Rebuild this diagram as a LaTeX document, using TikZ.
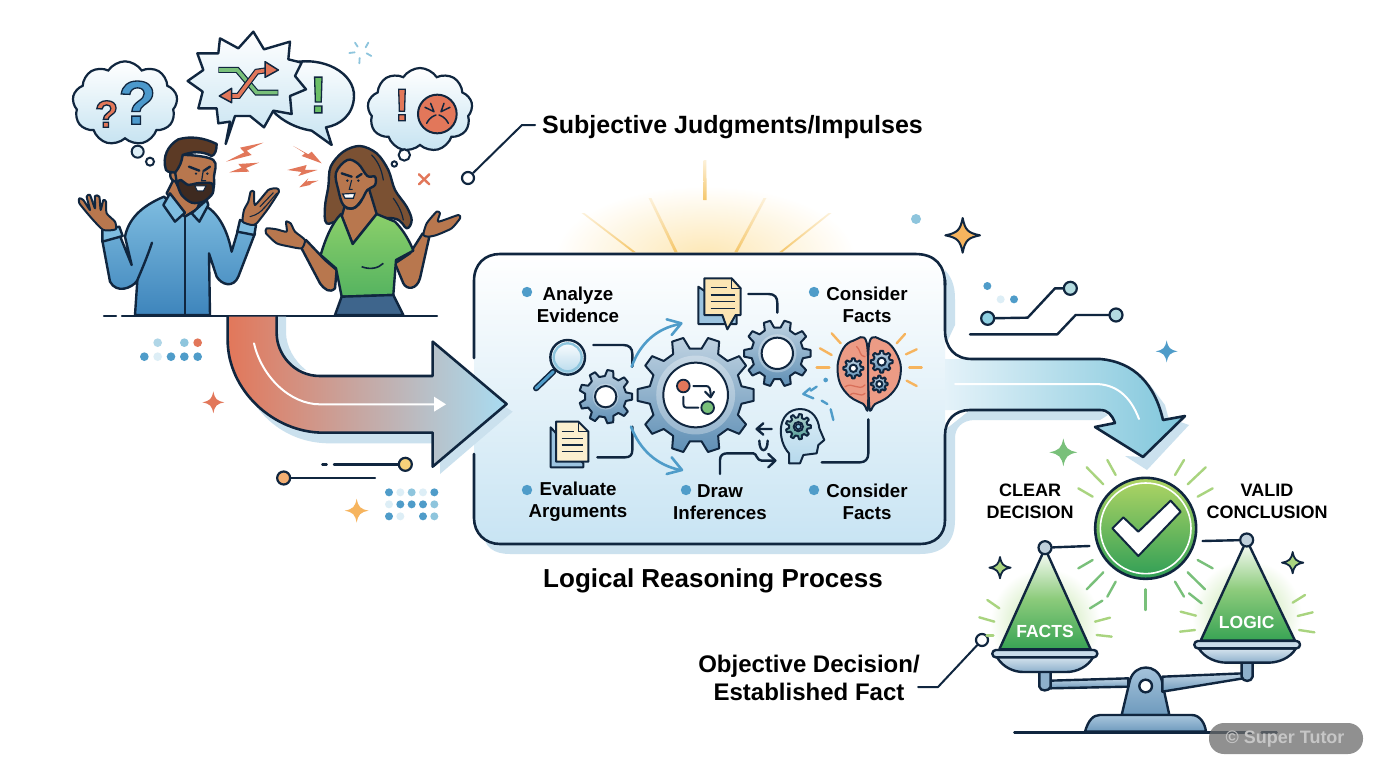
\documentclass[tikz,border=0pt]{standalone}
\usepackage{fontspec}
\setmainfont{Liberation Sans}
\usetikzlibrary{shapes.symbols,calc}
\definecolor{ink}{HTML}{10263F}
\definecolor{dotb}{HTML}{4F9CC9}
\definecolor{dotm}{HTML}{8EC5DD}
\definecolor{dotp}{HTML}{DDEEF6}
\definecolor{coral}{HTML}{E2775A}
\definecolor{amber}{HTML}{F6B45E}
\definecolor{skin}{HTML}{B8774E}
\definecolor{ray}{HTML}{A9D47F}
\definecolor{rayg}{HTML}{79C07A}
\definecolor{shadowb}{HTML}{CBE1EE}
\definecolor{sunray}{HTML}{F5C76B}
\newcommand\hexc[1]{\definecolor{#1}{HTML}{#1}}
\hexc{FDE7B4}\hexc{C6E3F1}\hexc{7FBDE0}\hexc{3E85BC}\hexc{3E2A20}\hexc{5C3A25}\hexc{7B5133}\hexc{8BCF6A}\hexc{55B360}\hexc{3E658C}\hexc{D9AB9B}\hexc{A8DCF2}\hexc{F6D27A}\hexc{F2AE72}\hexc{C8E4F3}\hexc{E4F2F9}\hexc{7FC6DB}\hexc{8FD0E2}\hexc{B4DCE0}\hexc{9CC4E0}\hexc{FBEFCF}\hexc{FBE5B4}\hexc{EC9B85}\hexc{DCEDF6}\hexc{B6D9EC}\hexc{4E9A94}\hexc{5F8FB5}\hexc{B9E09A}\hexc{A9C6DD}\hexc{6E9ABD}\hexc{C0D4E4}\hexc{8DB0CC}\hexc{D6E4EE}\hexc{C9DCEA}\hexc{38A354}\hexc{BFD0DC}\hexc{B0D564}\hexc{2F9E56}\hexc{D9705A}\hexc{8CCB7B}
\tikzset{
  ln/.style={draw=ink,line width=2.4pt,line cap=round,line join=round},
  thin ln/.style={draw=ink,line width=1.5pt,line cap=round,line join=round},
  cloudy/.style={cloud,cloud puffs=9,cloud puff arc=115,aspect=1.25,draw=ink,line width=2.2pt,top color=white,bottom color=#1},
  cloudy/.default={C6E3F1},
  skinshape/.style={ln,fill=skin},
  gearfill/.style={draw=ink,line width=2pt,line join=round,top color=#1!40!white,bottom color=#1},
  gearfill/.default={5F8FB5},
  lab/.style={font=\bfseries\fontsize{18.7}{22}\selectfont,text=black,align=center,inner sep=0pt},
  capl/.style={font=\bfseries\fontsize{18}{22}\selectfont,text=black,align=center,inner sep=0pt},
  bigl/.style={font=\bfseries\fontsize{26}{29}\selectfont,text=black,align=center,inner sep=0pt},
  rayl/.style={line width=2.4pt,line cap=round,draw=#1},
  pin/.style={circle,draw=ink,line width=2.2pt,fill=white,inner sep=0pt,minimum size=#1},
}
% four-pointed sparkle: x y radius style
\newcommand\sparkle[4]{\begin{scope}[shift={(#1,#2)},scale=#3]
 \path[#4] (0,-1) .. controls (.14,-.3) and (.3,-.14) .. (1,0) .. controls (.3,.14) and (.14,.3) .. (0,1) .. controls (-.14,.3) and (-.3,.14) .. (-1,0) .. controls (-.3,-.14) and (-.14,-.3) .. (0,-1) -- cycle;
\end{scope}}
% gear: x y R r hole teeth colour
\newcommand\gearwheel[7]{\begin{scope}[shift={(#1,#2)}]
 \pgfmathsetmacro\gst{360/#6}
 \path[gearfill=#7] (-.3*\gst:#4) \foreach \i in {1,...,#6}{ -- ({(\i-1)*\gst-.3*\gst}:#4) -- ({(\i-1)*\gst-.16*\gst}:#3) -- ({(\i-1)*\gst+.16*\gst}:#3) -- ({(\i-1)*\gst+.3*\gst}:#4) } -- cycle;
 \fill[white,opacity=.3] (0,0) circle ({1.22*#5});
 \draw[line width=2pt,draw=ink,fill=white] (0,0) circle (#5);
\end{scope}}
\newcommand\outlined[2]{\special{pdf:code 2 Tr 1.3 w 0.063 0.149 0.247 RG #1 rg}#2\special{pdf:code 0 Tr}}
% tapered sun ray: top x,y bottom x,y
\newcommand\sunbeam[4]{\path[top color=sunray!25!white,bottom color=sunray] (#1-1.4,#2) -- (#1+1.4,#2) -- (#3+1.6,#4) -- (#3-1.6,#4) -- cycle;}
\begin{document}
\begin{tikzpicture}[x=1pt,y=-1pt]
\useasboundingbox (0,0) rectangle (1376,768);
\fill[white] (0,0) rectangle (1376,768);

% ---------- sun glow behind the box
\begin{scope}
 \clip (540,150) rectangle (880,256);
 \shade[inner color=FDE7B4,outer color=white] (705,256) ellipse (150 and 70);
\end{scope}
\sunbeam{705}{160}{705}{200}
\sunbeam{650}{198}{676}{252}
\sunbeam{765}{198}{736}{252}
\sunbeam{583}{213}{634}{252}
\sunbeam{830}{213}{781}{252}

% ---------- upper-left scene (coordinates of a 3x crop)
\begin{scope}[shift={(60,20)},x=.33333pt,y=-.33333pt]
 % question cloud
 \node[cloudy,minimum width=105pt,minimum height=84pt,inner sep=0pt] (cloudq) at (195,250) {};
 \node[inner sep=0pt] (qbig) at (232,248) {\fontsize{62}{62}\selectfont\bfseries\outlined{0.30 0.60 0.80}{?}};
 \node[inner sep=0pt] (qsmall) at (140,282) {\fontsize{38}{38}\selectfont\bfseries\outlined{0.89 0.47 0.35}{?}};
 \draw[line width=2pt,draw=ink,fill=dotp] (233,395) circle (18);
 \draw[line width=2pt,draw=ink,fill=white] (270,425) circle (12);

 % anger cloud
 \node[cloudy,minimum width=105pt,minimum height=84pt,inner sep=0pt] (clouda) at (1080,270) {};
 \node[inner sep=0pt] (ex2) at (1026,255) {\fontsize{46}{46}\selectfont\bfseries\outlined{0.89 0.47 0.35}{!}};
 \draw[line width=2pt,draw=ink,fill=coral] (1132,282) circle (58);
 \draw[thin ln] (1095,262) -- (1122,275) -- (1112,250);
 \draw[thin ln] (1170,262) -- (1143,275) -- (1152,250);
 \draw[thin ln] (1100,310) .. controls (1110,290) and (1122,288) .. (1128,285);
 \draw[thin ln] (1165,310) .. controls (1155,290) and (1143,288) .. (1137,285);
 \draw[line width=2pt,draw=ink,fill=white] (1033,405) circle (17);
 \draw[line width=2pt,draw=ink,fill=white] (1003,432) circle (8);

 % speech bubble behind the burst
 \path[ln,top color=white,bottom color=C6E3F1] (690,130) .. controls (790,105) and (885,160) .. (882,230) .. controls (880,285) and (840,315) .. (798,322) -- (815,375) -- (755,332) .. controls (710,325) and (670,305) .. (640,275) -- cycle;
 \node[inner sep=0pt] (ex1) at (775,225) {\fontsize{52}{52}\selectfont\bfseries\outlined{0.42 0.75 0.40}{!}};

 % burst bubble
 \path[ln,top color=white,bottom color=C6E3F1] (580,35) -- (612,88) -- (690,65) -- (685,118) -- (725,128) -- (705,168) -- (738,208) -- (690,228) -- (695,282) -- (640,272) -- (612,322) -- (570,288) -- (525,288) -- (497,372) -- (510,305) -- (475,310) -- (470,265) -- (415,265) -- (428,215) -- (383,183) -- (430,150) -- (412,100) -- (475,100) -- (480,55) -- (535,85) -- cycle;
 % shuffle arrows
 \draw[ink,line width=6pt,line join=miter] (475,150) -- (532,150) -- (590,218) -- (655,218);
 \draw[rayg,line width=3.6pt,line join=miter] (477,150) -- (532,150) -- (590,218) -- (653,218);
 \draw[ink,line width=6pt] (505,228) -- (535,228) -- (590,155) -- (625,150);
 \draw[coral,line width=3.6pt] (507,228) -- (535,228) -- (590,155) -- (627,150);
 \path[ln,line width=1.5pt,fill=coral] (615,125) -- (655,150) -- (615,172) -- cycle;
 \path[ln,line width=1.5pt,fill=coral] (515,205) -- (478,228) -- (515,248) -- cycle;

 % bolts
 \path[fill=coral] (610,368) -- (540,383) -- (553,397) -- (498,425) -- (575,405) -- (560,392) -- cycle;
 \path[fill=coral] (597,428) -- (535,432) -- (545,443) -- (508,457) -- (568,455) -- (558,444) -- cycle;
 \path[fill=coral] (700,378) -- (735,400) -- (725,408) -- (785,430) -- (755,395) -- (745,403) -- cycle;
 \path[fill=coral] (682,450) -- (725,456) -- (715,468) -- (772,450) -- (735,450) -- (740,435) -- cycle;
 \path[fill=coral] (775,482) -- (740,484) -- (745,475) -- (718,502) -- (750,495) -- (755,490) -- cycle;
 % little x and ticks
 \draw[coral,line width=2.4pt,line cap=round] (1077,463) -- (1108,493) (1108,463) -- (1077,493);
 \foreach \a/\b/\c/\d in {885/68/893/80, 925/68/917/82, 868/99/884/97, 920/100/934/108, 899/114/898/130}
   \draw[dotm,line width=1.8pt,line cap=round] (\a,\b) -- (\c,\d);

 % ----- man
 \draw[skinshape] (320,520) -- (345,470) -- (430,520) -- (410,570) -- (375,590) -- cycle;
 \path[ln,top color=7FBDE0,bottom color=3E85BC] (225,885) -- (232,782) .. controls (215,805) and (170,822) .. (150,785) -- (127,662) -- (180,648) -- (215,735) -- (195,650) .. controls (205,600) and (240,560) .. (312,530) -- (375,590) -- (432,555) .. controls (470,575) and (500,620) .. (515,695) -- (540,610) -- (585,640) -- (535,770) .. controls (520,805) and (485,795) .. (470,770) -- (447,700) -- (450,885) -- cycle;
 \draw[ln] (375,590) -- (375,885);
 \draw[ln] (276,668) .. controls (262,710) and (245,750) .. (230,785);
 \path[ln,fill=7FBDE0] (127,630) -- (178,620) -- (188,648) -- (127,665) -- cycle;
 \path[ln,fill=7FBDE0] (540,600) -- (588,615) -- (583,645) -- (532,635) -- cycle;
 \path[ln,fill=7FBDE0] (330,520) -- (310,555) -- (345,605) -- (375,578) -- cycle;
 \path[ln,fill=7FBDE0] (440,540) -- (395,580) -- (418,605) -- (445,555) -- cycle;
 % man hands
 \draw[skinshape,line width=2pt] plot[smooth cycle,tension=.35] coordinates {(130,630)(95,595)(58,550)(58,535)(70,540)(90,570)(80,530)(90,525)(105,565)(105,528)(118,530)(122,570)(130,540)(138,545)(140,580)(165,605)(167,628)};
 \draw[skinshape,line width=2pt] plot[smooth cycle,tension=.35] coordinates {(548,605)(552,570)(565,545)(572,515)(582,515)(585,555)(625,510)(650,505)(657,515)(625,565)(590,610)(575,615)};
 \draw[ink,line width=1.1pt,line cap=round] (570,590) .. controls (590,585) and (605,575) .. (615,560) (600,560) -- (640,518) (612,565) -- (650,520);
 % man head
 \draw[skinshape] plot[smooth cycle,tension=.6] coordinates {(345,420)(375,405)(460,420)(462,470)(458,510)(420,545)(380,530)(345,480)};
 \draw[ln,fill=3E2A20] plot[smooth cycle,tension=.5] coordinates {(362,480)(385,495)(410,490)(455,490)(458,520)(430,545)(395,548)(365,525)(352,490)};
 \path[fill=white,draw=ink,line width=1pt] (405,498) -- (438,498) -- (430,513) -- (412,513) -- cycle;
 \draw[skinshape] (345,455) .. controls (325,445) and (325,485) .. (350,485) -- cycle;
 \path[ln,fill=5C3A25] (318,450) .. controls (305,410) and (325,375) .. (355,358) .. controls (390,348) and (430,352) .. (470,372) .. controls (470,390) and (465,405) .. (455,408) .. controls (425,392) and (395,395) .. (368,405) .. controls (365,425) and (360,440) .. (345,458) -- (325,455) -- cycle;
 \draw[ink,line width=2.4pt,line cap=round] (387,440) -- (418,452) (450,440) -- (432,452);
 \fill[ink] (408,461) circle (4) (442,461) circle (4);
 \draw[ink,line width=1.2pt] (430,450) -- (425,482) -- (438,482);

 % ----- woman
 \path[ln,fill=7B5133] plot[smooth cycle,tension=.55] coordinates {(900,378)(850,395)(812,440)(805,500)(795,560)(800,610)(850,600)(1000,595)(1040,625)(1055,600)(1040,560)(1005,510)(985,450)(950,400)};
 \draw[ink,line width=1.2pt,line cap=round] (935,405) .. controls (955,425) and (965,450) .. (970,480) (1000,535) .. controls (1015,555) and (1025,575) .. (1030,600);
 \draw[skinshape] (855,555) -- (925,500) -- (950,582) -- (878,672) -- (845,590) -- cycle;
 \draw[skinshape] plot[smooth cycle,tension=.6] coordinates {(828,458)(862,420)(895,432)(922,468)(945,470)(945,495)(922,510)(905,540)(880,565)(850,555)(835,510)};
 \draw[ln] (905,540) .. controls (895,560) and (880,570) .. (860,565);
 \draw[ink,line width=2.4pt,line cap=round] (845,460) -- (875,470) (905,462) -- (890,472);
 \fill[ink] (862,482) circle (4) (895,482) circle (4);
 \draw[ink,line width=1.1pt] (875,480) -- (868,508) -- (878,508);
 \path[fill=white,draw=ink,line width=1.2pt] (848,522) -- (885,520) -- (880,535) -- (855,535) -- cycle;
 % woman arms
 \draw[skinshape] (722,680) -- (738,660) -- (795,720) -- (830,750) -- (825,805) .. controls (810,820) and (795,810) .. (780,790) -- cycle;
 \draw[skinshape] (1088,640) -- (1108,650) -- (1080,775) .. controls (1070,810) and (1040,810) .. (1030,790) -- (1005,730) -- (1050,700) -- cycle;
 \path[ln,top color=8BCF6A,bottom color=55B360] (843,582) -- (878,672) -- (950,582) -- (1005,605) .. controls (1030,630) and (1050,665) .. (1060,692) -- (1008,720) -- (1000,825) -- (845,830) -- (828,745) -- (782,705) .. controls (795,660) and (815,610) .. (843,582) -- cycle;
 \draw[ink,line width=1.6pt] (905,740) .. controls (930,750) and (955,745) .. (970,730);
 \path[ln,fill=3E658C] (845,830) -- (1000,825) -- (1030,885) -- (825,885) -- cycle;
 \draw[skinshape,line width=2pt] plot[smooth cycle,tension=.35] coordinates {(725,685)(690,680)(650,670)(618,640)(620,625)(650,628)(680,635)(678,605)(692,610)(705,635)(735,660)};
 \draw[skinshape,line width=2pt] plot[smooth cycle,tension=.35] coordinates {(1090,645)(1100,610)(1130,575)(1140,580)(1135,605)(1195,585)(1200,595)(1175,625)(1130,645)(1105,650)};
\end{scope}

% ---------- table line
\draw[ln] (104,316) -- (116,316);
\draw[ln] (122,316) -- (437,316);

% ---------- process box and its shadow
\path[fill=shadowb] (483,470) -- (483,530) .. controls (483,548) and (495,554) .. (510,554) -- (920,554) .. controls (945,554) and (955,540) .. (955,520) -- (955,438) .. controls (955,428) and (962,420) .. (975,420) -- (1100,420) -- (1108,415) -- (1100,410) -- (970,410) -- (945,430) -- (945,500) -- cycle;
\path[fill=shadowb] (945,270) .. controls (954,280) and (955,290) .. (955,300) -- (955,325) -- (948,340) -- (945,340) -- cycle;
\path[top color=white,bottom color=C8E4F3] (474,281) .. controls (474,264) and (485,254) .. (500,254) -- (915,254) .. controls (935,254) and (945,265) .. (945,285) -- (945,520) .. controls (945,535) and (935,544) .. (920,544) -- (500,544) .. controls (485,544) and (474,533) .. (474,518) -- cycle;

% ---------- left flow arrow
\begin{scope}[shift={(130,310)},x=.33333pt,y=-.33333pt]
 \path[fill=shadowb] (440,20) -- (468,20) -- (468,70) .. controls (470,110) and (490,150) .. (530,182) -- (470,170) -- (440,100) -- cycle;
 \path[fill=shadowb] (908,215) -- (908,150) -- (1148,305) -- (930,492) -- (930,400) -- (600,400) .. controls (480,400) and (380,330) .. (330,200) -- cycle;
 \path[left color=coral,middle color=D9AB9B,right color=A8DCF2,ln,line width=2.6pt]
   (293,20) -- (293,90) .. controls (293,240) and (430,368) .. (580,368) -- (908,368) -- (908,470) -- (1130,282) -- (908,95) -- (908,198) -- (570,198) .. controls (490,198) and (440,130) .. (440,70) -- (440,20);
 \draw[white,line width=2pt,line cap=round] (372,100) .. controls (395,200) and (480,283) .. (570,283) -- (915,283);
 \fill[white] (948,283) -- (912,260) -- (912,305) -- cycle;
 % dots
 \foreach \x/\c in {83/dotm!70!white,163/dotm,203/coral} \fill[\c] (\x,98) circle (13);
 \foreach \x/\c in {43/dotb,83/dotp,123/dotb,163/dotb,203/dotb} \fill[\c] (\x,140) circle (13);
 \foreach \x/\c in {777/dotb,811/dotp,845/dotm,879/dotp,913/dotb} \fill[\c] (\x,547) circle (12);
 \foreach \x/\c in {777/dotp,811/dotb,845/dotb,879/dotb,913/dotm} \fill[\c] (\x,583) circle (12);
 \foreach \x/\c in {777/dotb,811/dotp,879/dotb,913/dotm} \fill[\c] (\x,619) circle (12);
 \sparkle{250}{277}{33}{fill=coral}
 \sparkle{680}{602}{36}{fill=amber}
 \node[pin=13pt,fill=F6D27A] (piny) at (826,463) {};
 \node[pin=13pt,fill=F2AE72] (pino) at (461,504) {};
 \coordinate (endy) at (612,463);
 \coordinate (endo) at (735,504);
 \draw[ln] (piny) -- (endy);
 \draw[ln] (577,463) -- (590,463);
 \draw[ln] (pino) -- (endo);
\end{scope}

% ---------- outgoing arrow and box outline
\path[fill=shadowb] (1172,419) -- (1189,425) -- (1147,470) -- (1125,456) -- (1143,457) -- cycle;
\path[fill=shadowb] (1150,385) -- (1165,405) -- (1169,420) -- (1163,420) -- cycle;
\path[left color=E4F2F9,right color=7FC6DB] (945,359) -- (1100,359) .. controls (1135,362) and (1155,385) .. (1163,420) -- (1185,416) -- (1143,457) -- (1095,427) -- (1115,423) .. controls (1112,415) and (1108,410) .. (1100,410) -- (945,410) -- cycle;
\draw[ln,line width=2.6pt] (945,280) -- (945,330) .. controls (945,348) and (955,359) .. (972,359) -- (1100,359) .. controls (1135,362) and (1155,385) .. (1163,420) -- (1185,416) -- (1143,457) -- (1095,427) -- (1115,423) .. controls (1112,415) and (1108,410) .. (1100,410) -- (970,410) .. controls (955,410) and (945,420) .. (945,435) -- (945,520);
\draw[ln,line width=2.6pt] (474,358) -- (474,281) .. controls (474,264) and (485,254) .. (500,254) -- (915,254) .. controls (935,254) and (945,265) .. (945,285);
\draw[ln,line width=2.6pt] (474,454) -- (474,518) .. controls (474,533) and (485,544) .. (500,544) -- (920,544) .. controls (935,544) and (945,535) .. (945,520);
\draw[white,line width=2pt,line cap=round] (955,384) -- (1095,384) .. controls (1115,384) and (1130,395) .. (1139,419);

% ---------- circuit marks, stars
\begin{scope}[shift={(930,200)},x=.33333pt,y=-.33333pt]
 \node[pin=13pt,fill=8FD0E2] (c1) at (173,355) {};
 \node[pin=13pt,fill=B4DCE0] (c2) at (421,265) {};
 \node[pin=13pt,fill=B4DCE0] (c3) at (558,345) {};
 \coordinate (c4) at (120,403);
 \draw[ln] (c1) -- (293,353) -- (375,265) -- (c2);
 \draw[ln] (c4) -- (382,403) -- (437,345) -- (c3);
 \fill[dotb] (172,258) circle (12) (252,298) circle (12);
 \fill[dotp] (212,298) circle (12);
 \sparkle{98}{106}{52}{fill=amber,draw=ink,line width=2pt,line join=round}
 \sparkle{710}{454}{33}{fill=dotb}
\end{scope}
\fill[dotm] (916,219) circle (5);

% ---------- inside the box
\begin{scope}[shift={(470,250)},x=.33333pt,y=-.33333pt]
 % connectors
 \draw[ln] (370,285) -- (460,285) .. controls (478,285) and (487,295) .. (487,312) -- (487,350);
 \draw[ln] (382,622) -- (465,622) .. controls (480,622) and (487,615) .. (487,600) -- (487,530);
 \draw[ln] (835,132) -- (895,132) .. controls (915,132) and (922,142) .. (922,160) -- (922,188);
 \draw[ln] (750,672) -- (750,630) .. controls (750,615) and (760,610) .. (772,610) -- (850,610) .. controls (860,610) and (860,632) .. (875,632) -- (915,632);
 \draw[ln] (895,612) -- (916,632) -- (895,652);
 \draw[ln] (905,537) -- (860,537) (880,520) -- (860,537) -- (880,554);
 \draw[ln] (868,572) .. controls (868,610) and (893,610) .. (893,572);
 \draw[ln] (1195,508) -- (1195,610) .. controls (1195,628) and (1185,637) .. (1170,637) -- (1055,637);
 % blue arrows
 \draw[dotb,line width=2.6pt,line cap=round] (485,350) .. controls (510,280) and (560,235) .. (630,222);
 \draw[dotb,line width=2.6pt,line cap=round,line join=round] (590,208) -- (634,220) -- (605,255);
 \draw[dotb,line width=2.6pt,line cap=round] (483,530) .. controls (510,600) and (560,645) .. (630,660);
 \draw[dotb,line width=2.6pt,line cap=round,line join=round] (605,622) -- (636,660) -- (590,672);
 % gears
 \gearwheel{677}{435}{175}{140}{97}{10}{5F8FB5}
 \gearwheel{407}{440}{80}{62}{32}{9}{5F8FB5}
 \gearwheel{922}{310}{100}{78}{47}{10}{5F8FB5}
 % centre icon
 \draw[thin ln,line width=2pt] (670,408) -- (708,408) .. controls (718,408) and (722,415) .. (722,440);
 \draw[thin ln,line width=2pt] (705,425) -- (722,442) -- (732,425);
 \draw[thin ln,line width=2pt] (640,440) -- (640,460) .. controls (640,472) and (645,473) .. (655,473) -- (685,473);
 \draw[thin ln,line width=1.8pt,fill=coral] (640,408) circle (19);
 \draw[thin ln,line width=1.8pt,fill=rayg] (713,473) circle (19);
 % magnifier
 \draw[ink,line width=6pt,line cap=round] (250,365) -- (198,415);
 \draw[dotb,line width=3pt,line cap=round] (250,365) -- (198,415);
 \path[draw=ink,line width=2.4pt,top color=white,bottom color=B6D9EC] (293,322) circle (52);
 \draw[dotm,line width=2.4pt] (293,322) circle (42);
 % lower document
 \path[ln,line width=2pt,fill=9CC4E0] (242,532) -- (242,652) -- (340,652) -- (340,640) -- cycle;
 \path[ln,line width=2pt,fill=FBEFCF] (258,515) -- (325,515) -- (355,545) -- (355,635) -- (258,635) -- cycle;
 \draw[ln,line width=1.4pt] (325,515) -- (325,545) -- (355,545);
 \draw[ink,line width=1.3pt] (275,545) -- (312,545) (275,565) -- (340,565) (275,585) -- (340,585) (275,605) -- (340,605);
 % upper document
 \path[ln,line width=2pt,fill=9CC4E0] (685,110) -- (685,222) -- (800,222) -- (800,190) -- cycle;
 \path[ln,line width=2pt,fill=FBE5B4] (703,85) -- (785,85) -- (812,115) -- (812,195) -- (797,195) -- (772,238) -- (757,195) -- (703,195) -- cycle;
 \draw[ln,line width=1.4pt] (785,85) -- (785,115) -- (812,115);
 \draw[ink,line width=1.3pt] (722,112) -- (770,112) (722,135) -- (795,135) (722,155) -- (795,155) (722,175) -- (795,175);
 % brain rays
 \foreach \a/\b/\c/\d in {1085/250/1112/280, 1050/295/1085/315, 1040/352/1078/352, 1305/252/1280/280, 1340/298/1308/313, 1355/352/1318/352, 1340/408/1310/392}
   \draw[rayl=amber] (\a,\b) -- (\c,\d);
 % brain
 \path[ln,fill=EC9B85,line width=2pt] plot[smooth cycle,tension=.6] coordinates {(1190,278)(1150,272)(1120,295)(1103,345)(1110,400)(1140,440)(1180,462)(1194,470)};
 \path[ln,fill=EC9B85,line width=2pt] plot[smooth cycle,tension=.6] coordinates {(1198,278)(1240,272)(1270,295)(1292,345)(1285,400)(1255,440)(1215,462)(1198,470)};
 \draw[D9705A,line width=1.3pt,line cap=round] (1125,410) .. controls (1150,395) and (1165,425) .. (1185,405) (1140,435) .. controls (1155,420) and (1170,445) .. (1185,430) (1160,290) .. controls (1175,305) and (1165,315) .. (1185,320);
 \gearwheel{1150}{355}{30}{23}{11}{8}{5F8FB5}
 \gearwheel{1235}{335}{33}{25}{12}{8}{5F8FB5}
 \gearwheel{1228}{402}{25}{19}{9}{8}{5F8FB5}
 % dashed arrow
 \fill[dotb] (1067,390) circle (7);
 \draw[dotb,line width=2.4pt,line cap=round] (1040,410) -- (1022,422);
 \draw[dotb,line width=2.4pt,line cap=round,line join=round] (1020,415) -- (1000,432) -- (1030,445);
 \draw[dotb,line width=2.4pt,line cap=round] (1055,452) -- (1072,462);
 \draw[dotb,line width=2.4pt,line cap=round] (1082,478) -- (1090,510);
 % head
 \path[ln,line width=2pt,top color=DCEDF6,bottom color=B6D9EC] (957,640) -- (957,610) .. controls (920,570) and (920,480) .. (990,477) .. controls (1030,477) and (1045,510) .. (1048,535) -- (1063,570) -- (1045,585) -- (1040,610) -- (1000,615) -- (990,640) -- cycle;
 \gearwheel{985}{530}{38}{28}{14}{9}{4E9A94}
 \draw[ink,line width=1.6pt,fill=dotm] (985,530) circle (8);
\end{scope}

% ---------- box texts
\foreach \x/\y in {527/292,814/292,527/490,686/490,814/490}
  \fill[dotb] (\x,\y) circle (5.2);
\node[lab] (analyze) at (578,305) {Analyze\\Evidence};
\node[lab] (considert) at (867,305) {Consider\\Facts};
\node[lab] (evaluate) at (578,502) {Evaluate\\Arguments};
\node[lab] (drawinf) at (720,502) {Draw\\Inferences};
\node[lab] (considerb) at (867,502) {Consider\\Facts};

% ---------- main labels and their leaders
\node[bigl,anchor=west,font=\bfseries\fontsize{25}{28}\selectfont] (subj) at (542,127) {Subjective Judgments/Impulses};
\node[pin=12pt] (subjpin) at (468,178) {};
\coordinate (subjk) at (522,125);
\coordinate (subjend) at (535,125);
\draw[ln,line width=2pt] (subjpin) -- (subjk) -- (subjend);
\node[bigl] (logical) at (713,581) {Logical Reasoning Process};
\node[bigl,font=\bfseries\fontsize{24}{28}\selectfont] (objective) at (809,678) {Objective Decision/\\Established Fact};
\node[pin=12pt] (objpin) at (982,640) {};
\coordinate (objk) at (938,687);
\coordinate (objend) at (918,687);
\draw[ln,line width=2pt] (objpin) -- (objk) -- (objend);

% ---------- scale (coordinates of a 3x crop)
\begin{scope}[shift={(960,430)},x=.33333pt,y=-.33333pt]
 % glows
 \shade[inner color=B9E09A,outer color=white,draw=none] (255,580) circle (165);
 \shade[inner color=B9E09A,outer color=white,draw=none] (860,555) circle (165);
 % rays
 \foreach \a/\b/\c/\d in {380/112/430/163, 442/90/467/135, 355/175/398/200, 683/163/737/112, 645/135/672/90, 713/200/758/175}
   \draw[rayl=ray] (\a,\b) -- (\c,\d);
 \foreach \a/\b/\c/\d in {355/415/398/390, 380/478/430/427, 442/500/467/455, 557/478/557/540, 645/455/672/500, 683/427/735/478, 713/390/758/415, 390/535/427/512, 687/490/725/520}
   \draw[rayl=rayg] (\a,\b) -- (\c,\d);
 \foreach \a/\b/\c/\d in {82/510/118/535, 58/562/103/575, 80/617/100/617, 405/575/450/563, 410/615/455/620, 662/545/708/557, 660/605/705/600, 998/518/1035/495, 1013/558/1058/547, 1017/600/1063/607}
   \draw[rayl=ray] (\a,\b) -- (\c,\d);
 \sparkle{310}{67}{42}{fill=rayg}
 \sparkle{120}{413}{32}{fill=ray,draw=ink,line width=1.8pt,line join=round}
 \sparkle{998}{398}{32}{fill=ray,draw=ink,line width=1.8pt,line join=round}
 % base
 \path[ln,top color=A9C6DD,bottom color=6E9ABD] (485,855) -- (510,750) .. controls (525,700) and (590,700) .. (605,750) -- (628,855) -- cycle;
 \path[ln,top color=C0D4E4,bottom color=6E9ABD] (270,752) -- (505,745) -- (505,770) -- (270,775) -- cycle;
 \path[ln,top color=C0D4E4,bottom color=6E9ABD] (607,740) -- (850,730) -- (850,745) -- (607,785) -- cycle;
 \draw[ln,fill=white] (557,768) circle (19);
 \path[ln,top color=A9C6DD,bottom color=6E9ABD] (375,905) .. controls (385,870) and (400,855) .. (420,855) -- (695,855) .. controls (720,855) and (735,880) .. (738,905) -- cycle;
 \draw[ln] (163,907) -- (875,907) (905,907) -- (950,907);
 % stems
 \path[ln,fill=8DB0CC] (238,722) -- (238,770) .. controls (240,785) and (268,785) .. (272,770) -- (272,722) -- cycle;
 \path[ln,fill=8DB0CC] (845,695) -- (845,740) .. controls (848,757) and (875,757) .. (878,740) -- (878,695) -- cycle;
 % pans
 \path[ln,top color=D6E4EE,bottom color=8DB0CC] (110,680) .. controls (130,715) and (165,726) .. (190,726) -- (320,726) .. controls (350,726) and (385,710) .. (400,680) -- cycle;
 \path[ln,fill=C9DCEA,rounded corners=3.5pt] (97,660) rectangle (412,682);
 \path[ln,top color=D6E4EE,bottom color=8DB0CC] (716,655) .. controls (735,685) and (770,698) .. (800,698) -- (925,698) .. controls (955,698) and (990,685) .. (1008,655) -- cycle;
 \path[ln,fill=C9DCEA,rounded corners=3.5pt] (703,633) rectangle (1020,655);
 % triangles
 \path[ln,top color=white,bottom color=38A354,middle color=8CCB7B] (255,355) -- (392,658) -- (118,658) -- cycle;
 \path[ln,top color=white,bottom color=38A354,middle color=8CCB7B] (860,330) -- (1005,632) -- (722,632) -- cycle;
 \node[font=\bfseries\fontsize{17.5}{18}\selectfont,text=white,inner sep=0pt] (facts) at (255,605) {FACTS};
 \node[font=\bfseries\fontsize{17.5}{18}\selectfont,text=white,inner sep=0pt] (logic) at (860,578) {LOGIC};
 % beam arms to check
 \node[circle,draw=ink,line width=2.2pt,fill=BFD0DC,minimum size=13pt,inner sep=0pt] (ballf) at (255,353) {};
 \node[circle,draw=ink,line width=2.2pt,fill=BFD0DC,minimum size=13pt,inner sep=0pt] (balll) at (860,330) {};
 % check badge
 \node[circle,draw=ink,line width=2.6pt,top color=B0D564,bottom color=2F9E56,minimum size=101pt,inner sep=0pt] (badge) at (557,295) {};
 \draw[white,line width=1.6pt] (557,295) circle (136);
 \path[ln,line width=2pt,fill=white] (457,295) -- (490,262) -- (535,305) -- (632,212) -- (662,245) -- (535,378) -- cycle;
 \coordinate (armf) at (388,348);
 \coordinate (arml) at (728,333);
 \draw[ln] (ballf) -- (armf);
 \draw[ln] (balll) -- (arml);
\end{scope}
\node[capl] (clear) at (1030,501.5) {CLEAR\\DECISION};
\node[capl] (valid) at (1267,501.5) {VALID\\CONCLUSION};

% ---------- watermark
\path[fill=gray!85!black,fill opacity=.75,rounded corners=15pt] (1209,723) rectangle (1363,754);
\node[font=\bfseries\fontsize{18}{18}\selectfont,text=gray!45!white,inner sep=0pt] (mark) at (1285,739) {© Super Tutor};
\end{tikzpicture}
\end{document}
